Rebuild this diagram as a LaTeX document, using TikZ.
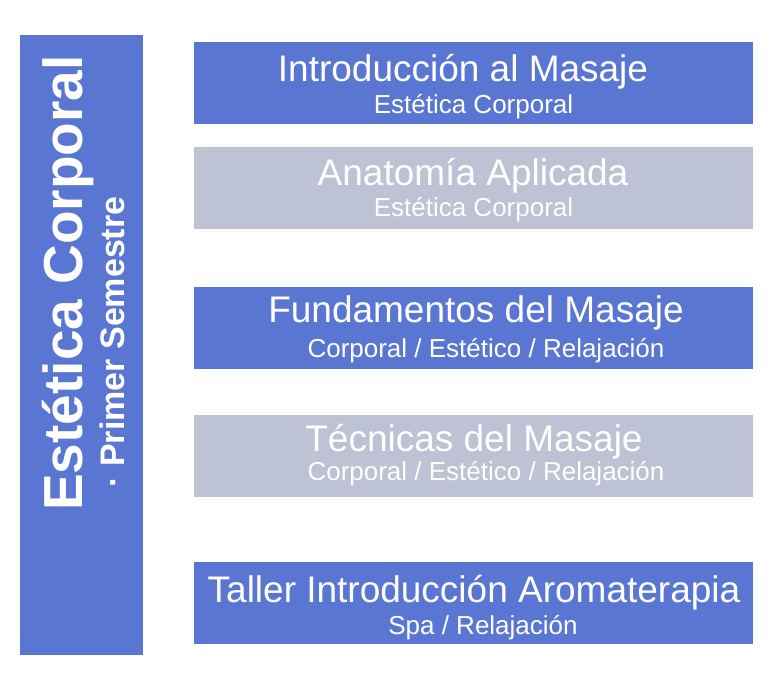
\documentclass[tikz,border=0pt]{standalone}
\usepackage{fontspec}
\setmainfont{Liberation Sans}
\definecolor{bl}{RGB}{90,118,211}
\definecolor{gr}{RGB}{189,195,212}
\tikzset{box/.style={draw=none,inner sep=0pt,minimum width=559pt,minimum height=82pt,text=white,align=center},
 ttl/.style={font=\fontsize{37}{40}\selectfont,inner sep=0pt},
 sub/.style={font=\fontsize{26}{28}\selectfont,inner sep=0pt}}
\begin{document}
\begin{tikzpicture}[x=1pt,y=-1pt]
\useasboundingbox (0,0) rectangle (782,692);
\node[fill=bl,minimum width=123pt,minimum height=620pt,inner sep=0pt] (bar) at (81.5,345) {};
\node[rotate=90,text=white,font=\bfseries\fontsize{55}{60}\selectfont,inner sep=0pt] (bt1) at (68,283) {Estética Corporal};
\node[rotate=90,text=white,font=\bfseries\fontsize{34}{38}\selectfont,inner sep=0pt] (bt2) at (112,342) {· Primer Semestre};
\node[box,fill=bl] (b1) at (473.5,83) {};
\node[ttl,text=white] (t1) at (463,72) {Introducción al Masaje};
\node[sub,text=white] (s1) at (473.5,107) {Estética Corporal};
\node[box,fill=bl,fill=gr] (b2) at (473.5,188) {};
\node[ttl,text=white] (t2) at (473,176) {Anatomía Aplicada};
\node[sub,text=white] (s2) at (473.5,210) {Estética Corporal};
\node[box,fill=bl] (b3) at (473.5,328) {};
\node[ttl,text=white] (t3) at (476,313) {Fundamentos del Masaje};
\node[sub,text=white] (s3) at (486,351) {Corporal / Estético / Relajación};
\node[box,fill=gr] (b4) at (473.5,456) {};
\node[ttl,text=white] (t4) at (474,442) {Técnicas del Masaje};
\node[sub,text=white] (s4) at (486,474) {Corporal / Estético / Relajación};
\node[box,fill=bl] (b5) at (473.5,603) {};
\node[ttl,text=white] (t5) at (474,593) {Taller Introducción Aromaterapia};
\node[sub,text=white] (s5) at (483,628) {Spa / Relajación};
\end{tikzpicture}
\end{document}
